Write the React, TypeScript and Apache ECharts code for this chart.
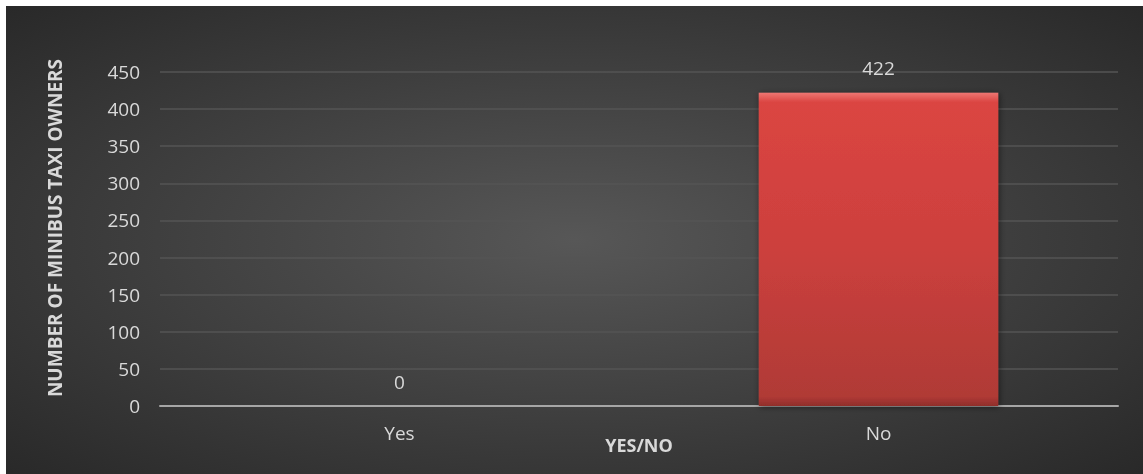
import React, { useEffect, useRef } from "react";
import * as echarts from "echarts";

const categories = ["Yes", "No"];
const values = [0, 422];
const yTicks = [0, 50, 100, 150, 200, 250, 300, 350, 400, 450];
const yTitle = "NUMBER OF MINIBUS TAXI OWNERS";
const xTitle = "YES/NO";

export default function App() {
  const ref = useRef<HTMLDivElement>(null);
  useEffect(() => {
    const chart = echarts.init(ref.current!, null, { renderer: "svg" });
    const font = "'Open Sans', sans-serif";
    chart.setOption({
      animation: false,
      backgroundColor: {
        type: "radial",
        x: 0.5,
        y: 0.5,
        r: 0.75,
        colorStops: [
          { offset: 0, color: "#575757" },
          { offset: 1, color: "#262626" },
        ],
      },
      grid: { left: 154, right: 25, top: 66, bottom: 68 },
      graphic: [
        {
          type: "text",
          x: 49,
          y: 222,
          rotation: Math.PI / 2,
          style: {
            text: yTitle,
            fill: "#d9d9d9",
            font: "bold 19px 'Open Sans', sans-serif",
            textAlign: "center",
            textVerticalAlign: "middle",
          },
        },
      ],
      xAxis: {
        type: "category",
        data: categories,
        name: xTitle,
        nameLocation: "middle",
        nameGap: 30,
        nameMoveOverlap: false,
        nameTextStyle: { color: "#d9d9d9", fontFamily: font, fontSize: 18, fontWeight: "bold" },
        axisLine: { lineStyle: { color: "#a6a6a6", width: 2 } },
        axisTick: { show: false },
        axisLabel: { color: "#d9d9d9", fontFamily: font, fontSize: 19, margin: 17 },
      },
      yAxis: {
        type: "value",
        min: yTicks[0],
        max: yTicks[yTicks.length - 1],
        interval: 50,
        axisLine: { show: false },
        axisTick: { show: false },
        splitLine: { lineStyle: { color: "#555555", width: 1.5 } },
        axisLabel: { color: "#d9d9d9", fontFamily: font, fontSize: 19, margin: 20 },
      },
      series: [
        {
          type: "bar",
          data: values,
          barWidth: "50%",
          itemStyle: {
            color: {
              type: "linear",
              x: 0,
              y: 0,
              x2: 0,
              y2: 1,
              colorStops: [
                { offset: 0, color: "#ee7672" },
                { offset: 0.03, color: "#db4542" },
                { offset: 0.5, color: "#cc403d" },
                { offset: 0.97, color: "#b03a36" },
                { offset: 1, color: "#8f2e2b" },
              ],
            },
            shadowColor: "rgba(0,0,0,0.5)",
            shadowBlur: 6,
            shadowOffsetX: 1,
            shadowOffsetY: 1,
          },
          label: {
            show: true,
            position: "top",
            distance: 15,
            color: "#d9d9d9",
            fontFamily: font,
            fontSize: 19,
          },
        },
      ],
    });
    return () => chart.dispose();
  }, []);
  return (
    <div
      ref={ref}
      style={{ position: "fixed", left: 6, top: 6, width: 1137, height: 468 }}
    />
  );
}
